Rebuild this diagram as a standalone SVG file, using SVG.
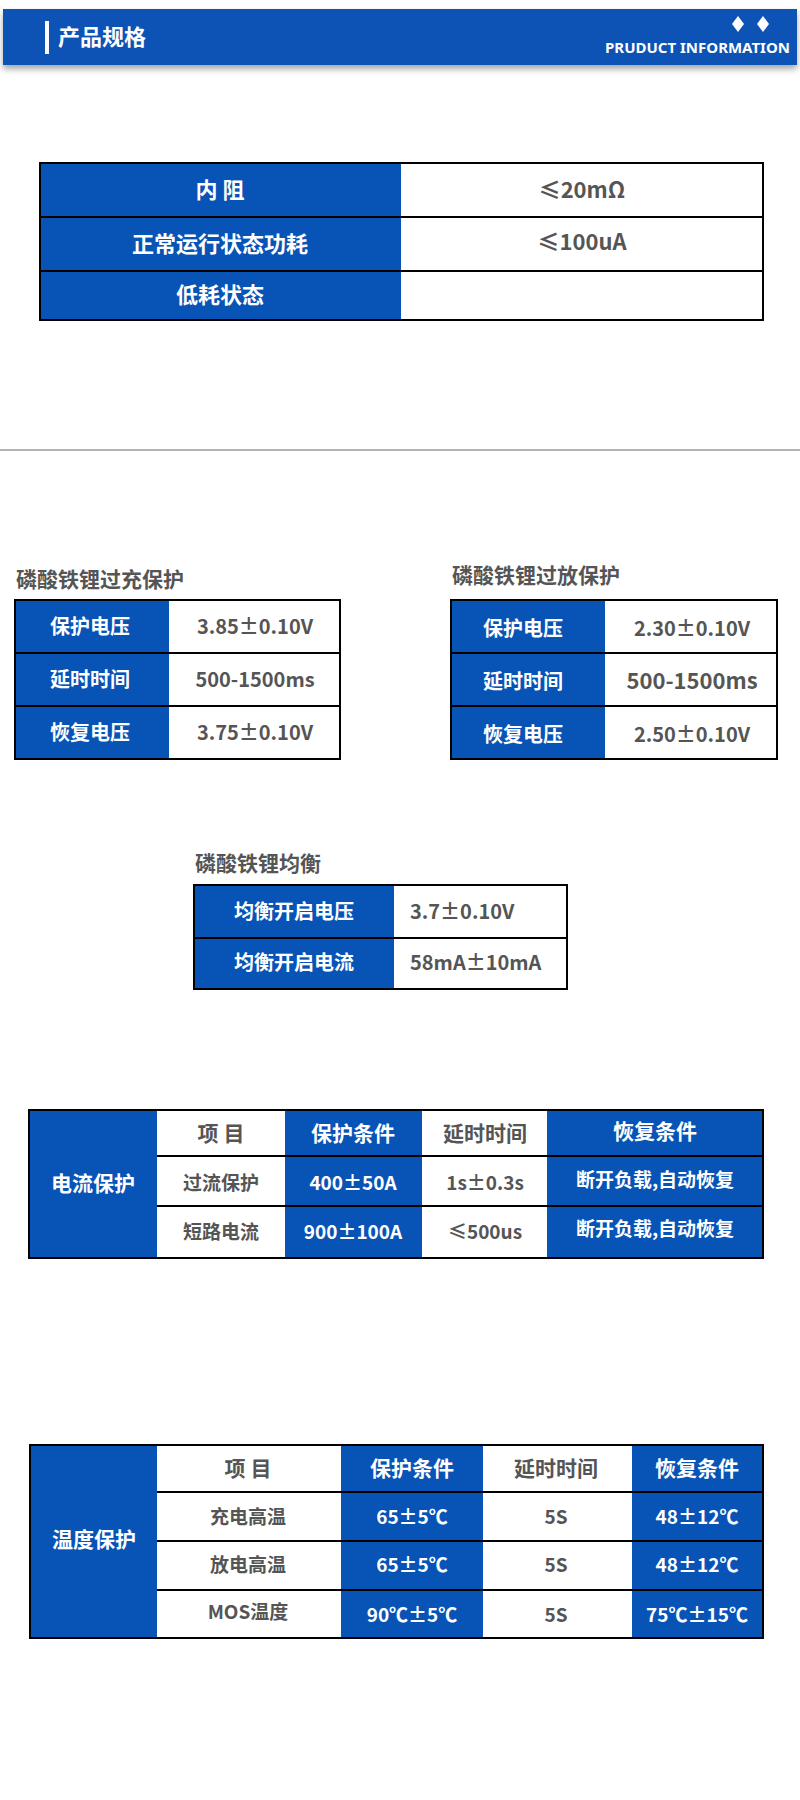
<svg xmlns="http://www.w3.org/2000/svg" width="800" height="1800" viewBox="0 0 800 1800">
<defs>
<style>
text{font-family:"Noto Sans CJK SC","Noto Sans",sans-serif;font-weight:bold}
.b{fill:#0853b6}
.w{fill:#fff}
.wt{fill:#fff;font-size:20px;text-anchor:middle}
.gt{fill:#555;font-size:20px;text-anchor:middle}
.bd{fill:none;stroke:#000;stroke-width:2}
.ln{stroke:#000;stroke-width:2}
.ttl{fill:#555;font-size:21px}
</style>
<filter id="sh" x="-5%" y="-20%" width="110%" height="160%"><feDropShadow dx="0" dy="4" stdDeviation="3" flood-color="#000" flood-opacity="0.35"/></filter>
</defs>
<rect width="800" height="1800" fill="#fff"/>
<g id="header">
<rect x="3" y="9" width="794" height="56" class="b" filter="url(#sh)"/>
<rect x="45" y="21" width="4" height="33" fill="#fff"/>
<text x="58" y="45" fill="#fff" style="font-size:22px">产品规格</text>
<polygon points="738,16 744,24 738,32 732,24" fill="#fff"/>
<polygon points="763,16 769,24 763,32 757,24" fill="#fff"/>
<text x="790" y="53" fill="#fff" style="font-size:15px;text-anchor:end;font-family:'Noto Sans',sans-serif">PRUDUCT INFORMATION</text>
</g>
<g id="table1">
<rect x="40" y="163" width="361" height="157" class="b"/>
<line x1="40" y1="217" x2="763" y2="217" class="ln"/>
<line x1="40" y1="271" x2="763" y2="271" class="ln"/>
<rect x="40" y="163" width="723" height="157" class="bd"/>
<text x="220" y="198" class="wt" style="font-size:22px">内  阻</text>
<text x="220" y="252" class="wt" style="font-size:22px">正常运行状态功耗</text>
<text x="220" y="303" class="wt" style="font-size:22px">低耗状态</text>
<text x="582" y="198" class="gt" style="font-size:22px">≤20mΩ</text>
<text x="582" y="250" class="gt" style="font-size:22px">≤100uA</text>
</g>
<line x1="0" y1="450" x2="800" y2="450" stroke="#999" stroke-width="1.5"/>
<g id="table2a">
<text x="16" y="587" class="ttl">磷酸铁锂过充保护</text>
<rect x="15" y="600" width="154" height="159" class="b"/>
<line x1="15" y1="653" x2="340" y2="653" class="ln"/>
<line x1="15" y1="706" x2="340" y2="706" class="ln"/>
<rect x="15" y="600" width="325" height="159" class="bd"/>
<text x="90" y="634" class="wt">保护电压</text>
<text x="90" y="687" class="wt">延时时间</text>
<text x="90" y="740" class="wt">恢复电压</text>
<text x="255" y="634" class="gt">3.85±0.10V</text>
<text x="255" y="687" class="gt">500-1500ms</text>
<text x="255" y="740" class="gt">3.75±0.10V</text>
</g>
<g id="table2b">
<text x="452" y="583" class="ttl">磷酸铁锂过放保护</text>
<rect x="451" y="600" width="154" height="159" class="b"/>
<line x1="451" y1="653" x2="777" y2="653" class="ln"/>
<line x1="451" y1="706" x2="777" y2="706" class="ln"/>
<rect x="451" y="600" width="326" height="159" class="bd"/>
<text x="523" y="636" class="wt">保护电压</text>
<text x="523" y="689" class="wt">延时时间</text>
<text x="523" y="742" class="wt">恢复电压</text>
<text x="692" y="636" class="gt">2.30±0.10V</text>
<text x="692" y="689" class="gt" style="font-size:22px">500-1500ms</text>
<text x="692" y="742" class="gt">2.50±0.10V</text>
</g>
<g id="table3">
<text x="195" y="871" class="ttl">磷酸铁锂均衡</text>
<rect x="194" y="885" width="200" height="104" class="b"/>
<line x1="194" y1="938" x2="567" y2="938" class="ln"/>
<rect x="194" y="885" width="373" height="104" class="bd"/>
<text x="294" y="919" class="wt">均衡开启电压</text>
<text x="294" y="970" class="wt">均衡开启电流</text>
<text x="410" y="919" class="gt" style="text-anchor:start">3.7±0.10V</text>
<text x="410" y="970" class="gt" style="text-anchor:start">58mA±10mA</text>
</g>
<g id="table4">
<rect x="29" y="1110" width="128" height="148" class="b"/>
<rect x="285" y="1110" width="137" height="148" class="b"/>
<rect x="547" y="1110" width="216" height="148" class="b"/>
<line x1="157" y1="1156" x2="763" y2="1156" class="ln"/>
<line x1="157" y1="1206" x2="763" y2="1206" class="ln"/>
<rect x="29" y="1110" width="734" height="148" class="bd"/>
<text x="93" y="1191" class="wt" style="font-size:21px">电流保护</text>
<text x="221" y="1141" class="gt" style="font-size:21px">项  目</text>
<text x="353" y="1141" class="wt" style="font-size:21px">保护条件</text>
<text x="485" y="1141" class="gt" style="font-size:21px">延时时间</text>
<text x="655" y="1139" class="wt" style="font-size:21px">恢复条件</text>
<text x="221" y="1190" class="gt" style="font-size:19px">过流保护</text>
<text x="353" y="1190" class="wt" style="font-size:19px">400±50A</text>
<text x="485" y="1190" class="gt" style="font-size:19px">1s±0.3s</text>
<text x="655" y="1187" class="wt" style="font-size:19px">断开负载,自动恢复</text>
<text x="221" y="1239" class="gt" style="font-size:19px">短路电流</text>
<text x="353" y="1239" class="wt" style="font-size:19px">900±100A</text>
<text x="485" y="1239" class="gt" style="font-size:19px">≤500us</text>
<text x="655" y="1236" class="wt" style="font-size:19px">断开负载,自动恢复</text>
</g>
<g id="table5">
<rect x="30" y="1445" width="127" height="193" class="b"/>
<rect x="341" y="1445" width="142" height="193" class="b"/>
<rect x="632" y="1445" width="131" height="193" class="b"/>
<line x1="157" y1="1492" x2="763" y2="1492" class="ln"/>
<line x1="157" y1="1541" x2="763" y2="1541" class="ln"/>
<line x1="157" y1="1590" x2="763" y2="1590" class="ln"/>
<rect x="30" y="1445" width="733" height="193" class="bd"/>
<text x="94" y="1547" class="wt" style="font-size:21px">温度保护</text>
<text x="248" y="1476" class="gt" style="font-size:21px">项  目</text>
<text x="412" y="1476" class="wt" style="font-size:21px">保护条件</text>
<text x="556" y="1476" class="gt" style="font-size:21px">延时时间</text>
<text x="697" y="1476" class="wt" style="font-size:21px">恢复条件</text>
<text x="248" y="1524" class="gt" style="font-size:19px">充电高温</text>
<text x="412" y="1524" class="wt" style="font-size:19px">65±5℃</text>
<text x="556" y="1524" class="gt" style="font-size:19px">5S</text>
<text x="697" y="1524" class="wt" style="font-size:19px">48±12℃</text>
<text x="248" y="1572" class="gt" style="font-size:19px">放电高温</text>
<text x="412" y="1572" class="wt" style="font-size:19px">65±5℃</text>
<text x="556" y="1572" class="gt" style="font-size:19px">5S</text>
<text x="697" y="1572" class="wt" style="font-size:19px">48±12℃</text>
<text x="248" y="1619" class="gt" style="font-size:19px">MOS温度</text>
<text x="412" y="1622" class="wt" style="font-size:19px">90℃±5℃</text>
<text x="556" y="1622" class="gt" style="font-size:19px">5S</text>
<text x="697" y="1622" class="wt" style="font-size:19px">75℃±15℃</text>
</g>
</svg>
